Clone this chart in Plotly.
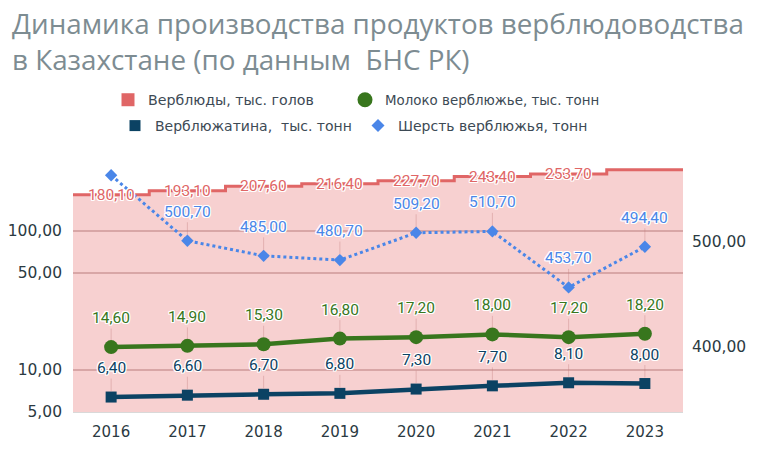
import math
import plotly.graph_objects as go

years = ["2016", "2017", "2018", "2019", "2020", "2021", "2022", "2023"]
camels = [180.1, 193.1, 207.6, 216.4, 227.7, 243.4, 253.7, 273.0]
milk = [14.6, 14.9, 15.3, 16.8, 17.2, 18.0, 17.2, 18.2]
meat = [6.4, 6.6, 6.7, 6.8, 7.3, 7.7, 8.1, 8.0]
wool = [575.0, 500.7, 485.0, 480.7, 509.2, 510.7, 453.7, 494.4]
camel_labeled = years[:7]
wool_labeled = years[1:]
left_ticks = [5, 10, 50, 100]
right_ticks = [400, 500]

names = ["Верблюды, тыс. голов", "Молоко верблюжье, тыс. тонн",
         "Верблюжатина,  тыс. тонн", "Шерсть верблюжья, тонн"]
title_text = ("Динамика производства продуктов верблюдоводства<br>"
              "в Казахстане (по данным \u00a0БНС РК)")

C_CAMEL = "#e06666"
C_MILK = "#38761d"
C_MEAT = "#0b4263"
C_WOOL = "#4a86e8"
TICK_COL = "#2b3a42"
SHADOW = ("1px 1px 0 #fff, -1px -1px 0 #fff, 1px -1px 0 #fff, -1px 1px 0 #fff, "
          "0 1px 0 #fff, 1px 0 0 #fff, 0 -1px 0 #fff, -1px 0 0 #fff")

W, H = 776, 455
ML, MR, MT, MB = 73, 93, 150, 43
PW, PH = W - ML - MR, H - MT - MB

idx = list(range(len(years)))

# step outline of the camel series (each value spans its whole category band)
sx, sy = [], []
for i, v in enumerate(camels):
    sx += [i - 0.5, i + 0.5]
    sy += [v, v]

fig = go.Figure()
fig.add_trace(go.Scatter(x=sx, y=sy, mode="lines", fill="tozeroy",
                         fillcolor="rgba(230,100,100,0.3)",
                         line=dict(color=C_CAMEL, width=3),
                         showlegend=False, hoverinfo="skip"))
fig.add_trace(go.Scatter(x=idx, y=milk, mode="lines+markers",
                         line=dict(color=C_MILK, width=4.5),
                         marker=dict(symbol="circle", size=14, color=C_MILK),
                         showlegend=False))
fig.add_trace(go.Scatter(x=idx, y=meat, mode="lines+markers",
                         line=dict(color=C_MEAT, width=4.5),
                         marker=dict(symbol="square", size=11, color=C_MEAT),
                         showlegend=False))
fig.add_trace(go.Scatter(x=idx, y=wool, mode="lines+markers", yaxis="y2",
                         line=dict(color=C_WOOL, width=3, dash="dot"),
                         marker=dict(symbol="diamond", size=9.5, color=C_WOOL),
                         showlegend=False))

# legend entries (marker only), one legend per entry for exact placement
leg_specs = [(names[0], "square", 13, C_CAMEL, 127, 100, 14.2),
             (names[1], "circle", 15, C_MILK, 364, 100, 13.4),
             (names[2], "square", 11, C_MEAT, 134, 126, 14.0),
             (names[3], "diamond", 10, C_WOOL, 377, 126, 14.0)]
legend_layout = {}
for k, (nm, sym, sz, col, cx, cy, fs) in enumerate(leg_specs):
    lg = "legend" if k == 0 else f"legend{k + 1}"
    fig.add_trace(go.Scatter(x=[None], y=[None], mode="markers", name=nm,
                             marker=dict(symbol=sym, size=sz, color=col),
                             legend=lg))
    legend_layout[lg] = dict(orientation="h", xref="container", yref="container",
                             x=(cx - 19) / W, xanchor="left",
                             y=1 - cy / H, yanchor="middle",
                             font=dict(family="DejaVu Sans", size=fs, color="#3d4a55"),
                             bgcolor="rgba(0,0,0,0)")

def fmt(v):
    return f"{v:.2f}".replace(".", ",")

def lab_font(col):
    return dict(family="Roboto", size=15.5, color=col, shadow=SHADOW)

ann = [dict(x=(10 - ML) / PW, y=(H - MB - 41) / PH, xref="paper", yref="paper",
            xanchor="left", yanchor="middle", align="left", text=title_text,
            showarrow=False,
            font=dict(family="Open Sans", size=27.8, color="#7d8c92"))]
for i, v in enumerate(camels):
    if years[i] in camel_labeled:
        ann.append(dict(x=i, y=math.log10(v), xref="x", yref="y", text=fmt(v),
                        showarrow=False, font=lab_font(C_CAMEL)))
lead = "rgba(190,120,120,0.35)"
for series, col, yref, lab_years, so in [(milk, C_MILK, "y", years, 7),
                                          (meat, C_MEAT, "y", years, 6),
                                          (wool, C_WOOL, "y2", wool_labeled, 6)]:
    for i, v in enumerate(series):
        if years[i] not in lab_years:
            continue
        ann.append(dict(x=i, y=math.log10(v), xref="x", yref=yref, text=fmt(v),
                        showarrow=True, arrowhead=0, arrowwidth=1, arrowcolor=lead,
                        ax=0, ay=-29, standoff=so, font=lab_font(col)))

fig.update_layout(
    width=W, height=H,
    margin=dict(l=ML, r=MR, t=MT, b=MB, autoexpand=False),
    paper_bgcolor="white", plot_bgcolor="white",
    separators=", ",
    xaxis=dict(range=[-0.5, 7.5], tickvals=idx, ticktext=years,
               showgrid=False, zeroline=False, showline=True,
               linecolor="#d9d9d9", linewidth=1,
               tickfont=dict(family="DejaVu Sans", size=15, color=TICK_COL),
               ticklabelstandoff=6),
    yaxis=dict(type="log", range=[math.log10(5), 2.5771],
               tickvals=left_ticks, tickformat=".2f",
               showgrid=True, gridcolor="#d3c3c3", gridwidth=1.5,
               zeroline=False, showline=False,
               tickfont=dict(family="DejaVu Sans", size=15.5, color=TICK_COL),
               ticklabelstandoff=10),
    yaxis2=dict(type="log", range=[2.54248, 2.78284], overlaying="y", side="right",
                tickvals=right_ticks, tickformat=".2f", showgrid=False,
                zeroline=False, showline=False,
                tickfont=dict(family="DejaVu Sans", size=15.5, color=TICK_COL),
                ticklabelstandoff=8),
    annotations=ann,
    showlegend=True,
    **legend_layout,
)

fig.write_html("out.html")
